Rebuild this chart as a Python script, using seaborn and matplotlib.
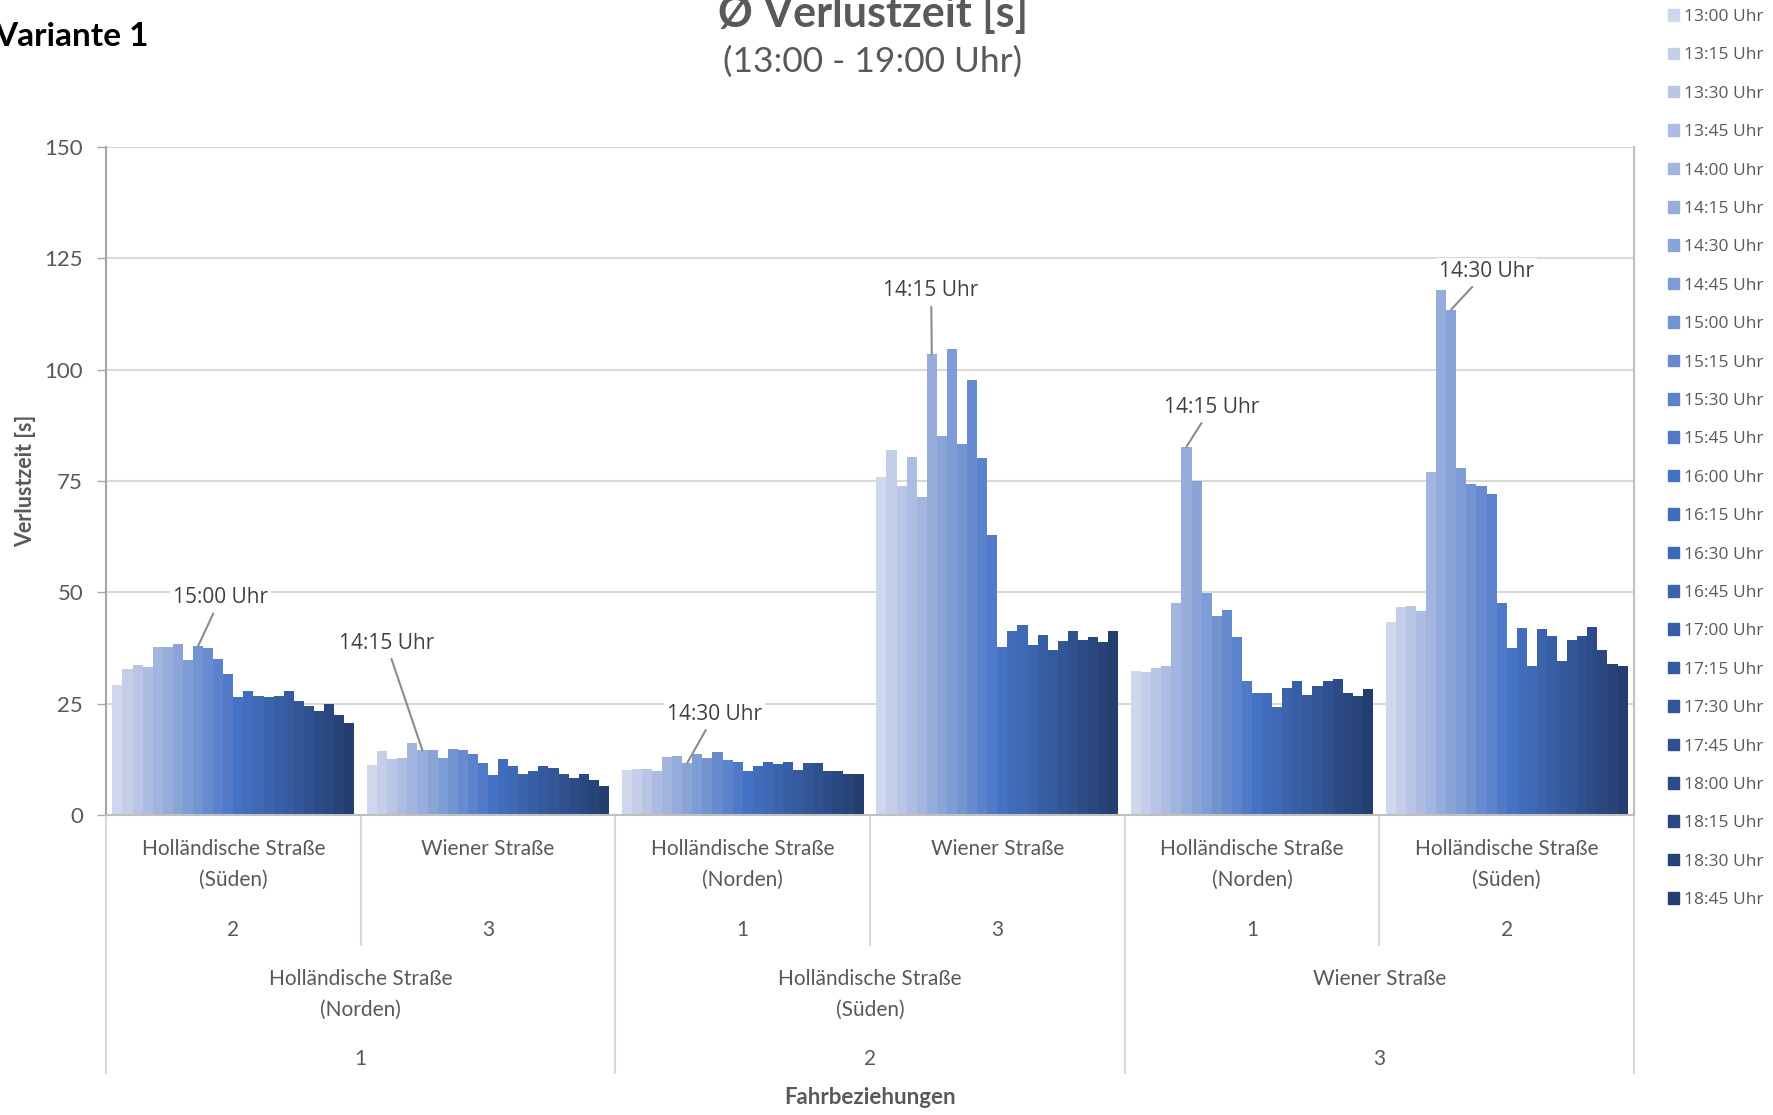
import numpy as np
import pandas as pd
import seaborn as sns
import matplotlib.pyplot as plt
from matplotlib.patches import Patch
from matplotlib.transforms import blended_transform_factory

# Zeitintervalle (Legende)
zeiten = ["13:00 Uhr", "13:15 Uhr", "13:30 Uhr", "13:45 Uhr", "14:00 Uhr", "14:15 Uhr",
          "14:30 Uhr", "14:45 Uhr", "15:00 Uhr", "15:15 Uhr", "15:30 Uhr", "15:45 Uhr",
          "16:00 Uhr", "16:15 Uhr", "16:30 Uhr", "16:45 Uhr", "17:00 Uhr", "17:15 Uhr",
          "17:30 Uhr", "17:45 Uhr", "18:00 Uhr", "18:15 Uhr", "18:30 Uhr", "18:45 Uhr"]

# Fahrbeziehungen: innere Ebene (nach) und äußere Ebene (von)
nach_name = ["Holländische Straße\n(Süden)", "Wiener Straße", "Holländische Straße\n(Norden)",
             "Wiener Straße", "Holländische Straße\n(Norden)", "Holländische Straße\n(Süden)"]
nach_nr = ["2", "3", "1", "3", "1", "2"]
von_name = ["Holländische Straße\n(Norden)", "Holländische Straße\n(Süden)", "Wiener Straße"]
von_nr = ["1", "2", "3"]

# Ø Verlustzeit [s] je Fahrbeziehung
v_1_2 = [29.3, 32.7, 33.7, 33.3, 37.8, 37.8, 38.4, 34.9, 37.9, 37.5, 35.1, 31.6,
         26.6, 27.9, 26.8, 26.6, 26.8, 27.9, 25.7, 24.4, 23.3, 24.9, 22.5, 20.6]
v_1_3 = [11.2, 14.4, 12.5, 12.7, 16.1, 14.5, 14.7, 12.7, 14.9, 14.5, 13.8, 11.6,
         8.9, 12.5, 11.1, 9.2, 9.8, 10.9, 10.6, 9.2, 8.4, 9.2, 7.9, 6.5]
v_2_1 = [10.2, 10.4, 10.3, 9.8, 13.0, 13.2, 11.7, 13.6, 12.8, 14.2, 12.3, 11.8,
         9.8, 10.9, 11.8, 11.4, 11.8, 10.2, 11.6, 11.6, 9.9, 9.9, 9.2, 9.2]
v_2_3 = [75.8, 82.0, 73.9, 80.4, 71.4, 103.5, 85.0, 104.6, 83.4, 97.6, 80.1, 62.9,
         37.8, 41.3, 42.6, 38.2, 40.4, 37.0, 39.1, 41.4, 39.4, 39.9, 38.9, 41.4]
v_3_1 = [32.3, 32.1, 33.1, 33.4, 47.7, 82.7, 75.1, 49.9, 44.7, 46.0, 39.9, 30.1,
         27.5, 27.3, 24.2, 28.5, 30.1, 27.0, 28.9, 30.1, 30.6, 27.5, 26.7, 28.3]
v_3_2 = [43.4, 46.6, 46.9, 45.8, 77.0, 117.8, 113.5, 78.0, 74.4, 73.9, 72.0, 47.7,
         37.4, 42.0, 33.5, 41.7, 40.2, 34.6, 39.4, 40.2, 42.3, 37.1, 33.8, 33.5]

# markierte Spitzen: Fahrbeziehung, Zeitindex, Textposition (Datenkoordinaten)
ann_rel = [0, 1, 2, 3, 4, 5]
ann_zeit = [8, 5, 6, 5, 5, 6]
ann_pos = [(-0.05, 48.8), (0.60, 38.6), (1.89, 22.6), (2.74, 117.7), (3.84, 91.5), (4.92, 122.0)]

werte = [v_1_2, v_1_3, v_2_1, v_2_3, v_3_1, v_3_2]
rel_keys = [f"R{i}" for i in range(len(werte))]
df = pd.DataFrame({
    "rel": np.repeat(rel_keys, len(zeiten)),
    "zeit": zeiten * len(werte),
    "wert": np.concatenate(werte),
})

# Excel-artige monochrome Blau-Palette
hell = np.array([208, 214, 236]) / 255
basis = np.array([68, 114, 196]) / 255
dunkel = np.array([36, 62, 112]) / 255
farben = [tuple(hell + (basis - hell) * i / 12) for i in range(12)] + \
         [tuple(basis + (dunkel - basis) * i / 11) for i in range(12)]

sns.set_style("white")
plt.rcParams["font.family"] = ["Lato", "DejaVu Sans"]
grau = "#595959"

fig = plt.figure(figsize=(17.74, 11.15), dpi=100)
ax = fig.add_axes([106 / 1774, 1 - 815 / 1115, (1634 - 106) / 1774, (815 - 147) / 1115])

sns.barplot(data=df, x="rel", y="wert", hue="zeit", order=rel_keys, hue_order=zeiten,
            palette=farben, saturation=1, width=0.95, gap=0, linewidth=0,
            legend=False, ax=ax)

ax.set_ylim(0, 150)
ax.set_xlim(-0.5, 5.5)
ax.set_yticks(range(0, 151, 25))
ax.yaxis.grid(True, color="#d9d9d9", linewidth=1.5)
ax.set_axisbelow(True)
ax.tick_params(axis="y", labelsize=16, colors=grau, length=6.5, width=1, pad=10,
               color="#a6a6a6", left=True)
ax.tick_params(axis="x", length=0, labelbottom=False)
ax.set_xlabel("")
ax.set_ylabel("Verlustzeit [s]", fontsize=15.5, fontweight="bold", color=grau)
ax.yaxis.set_label_coords((36 - 106) / 1528, 0.5)
ax.spines["top"].set_visible(False)
for s in ["left", "right", "bottom"]:
    ax.spines[s].set_color("#bfbfbf")
    ax.spines[s].set_linewidth(1.5)
ax.spines["left"].set_color("#a6a6a6")

# Beschriftung der Spitzen
for r, z, pos in zip(ann_rel, ann_zeit, ann_pos):
    bar = ax.containers[z][r]
    xy = (bar.get_x() + bar.get_width() / 2, bar.get_height())
    ax.annotate(zeiten[z], xy=xy, xytext=pos, ha="center", va="center",
                fontsize=15, color="#404040", family=["Open Sans", "DejaVu Sans"],
                bbox=dict(fc="white", ec="none", pad=2),
                arrowprops=dict(arrowstyle="-", color="#8c8c8c", lw=1.5, shrinkA=2, shrinkB=0))

# mehrstufige Kategorienachse
tr = blended_transform_factory(ax.transData, fig.transFigure)
fy = lambda px: 1 - px / 1115
for i, (n, nr) in enumerate(zip(nach_name, nach_nr)):
    ax.text(i, fy(839), n, transform=tr, ha="center", va="top", fontsize=15,
            color=grau, linespacing=1.65, clip_on=False)
    ax.text(i, fy(930), nr, transform=tr, ha="center", va="center", fontsize=15,
            color=grau, clip_on=False)
for j, (n, nr) in enumerate(zip(von_name, von_nr)):
    ax.text(2 * j + 0.5, fy(969), n, transform=tr, ha="center", va="top", fontsize=15,
            color=grau, linespacing=1.65, clip_on=False)
    ax.text(2 * j + 0.5, fy(1059), nr, transform=tr, ha="center", va="center", fontsize=15,
            color=grau, clip_on=False)
for xb in [0.5, 2.5, 4.5]:
    ax.plot([xb, xb], [fy(815), fy(945)], transform=tr, color="#d9d9d9", lw=1.5, clip_on=False)
for xb in [-0.5, 1.5, 3.5, 5.5]:
    ax.plot([xb, xb], [fy(815), fy(1073)], transform=tr, color="#d9d9d9", lw=1.5, clip_on=False)
ax.text(2.5, fy(1097), "Fahrbeziehungen", transform=tr, ha="center", va="center",
        fontsize=16, fontweight="bold", color=grau, clip_on=False)

# Titel
fig.text(873 / 1774, fy(14), "Ø Verlustzeit [s]", ha="center", va="center",
         fontsize=31, fontweight="bold", color=grau)
fig.text(873 / 1774, fy(62), "(13:00 - 19:00 Uhr)", ha="center", va="center",
         fontsize=25.5, color=grau)
fig.text(149 / 1774, fy(36), "Variante 1", ha="right", va="center",
         fontsize=24, fontweight="bold", color="black")

# Legende
handles = [Patch(color=c) for c in farben]
leg = fig.legend(handles, zeiten, loc="upper left", bbox_to_anchor=(1668 / 1774, fy(9)),
                 frameon=False, handlelength=0.65, handleheight=0.65, handletextpad=0.3,
                 labelspacing=1.29, borderaxespad=0, borderpad=0,
                 prop={"family": ["Open Sans", "DejaVu Sans"], "size": 12.5})
for t in leg.get_texts():
    t.set_color(grau)

fig.savefig("out.png", dpi=100)
